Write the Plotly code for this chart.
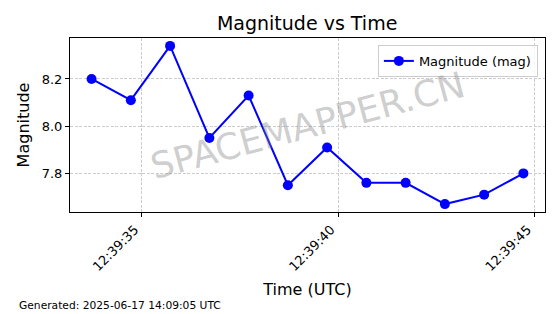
import plotly.graph_objects as go
import pandas as pd

times = ["2025-06-17 12:39:33.72", "2025-06-17 12:39:34.72", "2025-06-17 12:39:35.72",
         "2025-06-17 12:39:36.72", "2025-06-17 12:39:37.72", "2025-06-17 12:39:38.72",
         "2025-06-17 12:39:39.72", "2025-06-17 12:39:40.72", "2025-06-17 12:39:41.72",
         "2025-06-17 12:39:42.72", "2025-06-17 12:39:43.72", "2025-06-17 12:39:44.72"]
magnitude = [8.20, 8.11, 8.34, 7.95, 8.13, 7.75, 7.91, 7.76, 7.76, 7.67, 7.71, 7.80]
tick_vals = ["2025-06-17 12:39:35", "2025-06-17 12:39:40", "2025-06-17 12:39:45"]
tick_text = ["12:39:35", "12:39:40", "12:39:45"]
y_ticks = [7.8, 8.0, 8.2]

t = pd.to_datetime(times)
span = t.max() - t.min()
xr = [t.min() - span * 0.05, t.max() + span * 0.05]
ymin, ymax = min(magnitude), max(magnitude)
yr = [ymin - (ymax - ymin) * 0.05, ymax + (ymax - ymin) * 0.05]

font = "DejaVu Sans"
fig = go.Figure()
fig.add_trace(go.Scatter(
    x=t, y=magnitude, mode="lines+markers", name="Magnitude (mag)",
    line=dict(color="#0000ff", width=2), marker=dict(color="#0000ff", size=10),
))

fig.update_layout(
    width=560, height=314,
    margin=dict(l=70, r=15, t=38, b=102),
    paper_bgcolor="white", plot_bgcolor="white",
    font=dict(family=font, color="black", size=13),
    title=dict(text="Magnitude vs Time", x=0.5485, xanchor="center", y=0.927, yanchor="middle",
               font=dict(size=19, family=font)),
    showlegend=True,
    legend=dict(x=0.985, y=0.96, xanchor="right", yanchor="top", bgcolor="rgba(255,255,255,0.8)",
                bordercolor="#cccccc", borderwidth=1, font=dict(size=13, family=font)),
    xaxis=dict(type="date", range=xr, tickvals=pd.to_datetime(tick_vals), ticktext=tick_text,
               tickangle=-45, ticklabelshift=-7, showline=True, linecolor="black", linewidth=1, mirror=True,
               ticks="outside", ticklen=4, tickcolor="black",
               showgrid=True, gridcolor="#cccccc", griddash="3px,1.5px", gridwidth=0.8, zeroline=False,
               title=dict(text="Time (UTC)", font=dict(size=16, family=font), standoff=10)),
    yaxis=dict(range=yr, tickvals=y_ticks, ticktext=["7.8", "8.0", "8.2"],
               showline=True, linecolor="black", linewidth=1, mirror=True,
               ticks="outside", ticklen=4, tickcolor="black",
               showgrid=True, gridcolor="#cccccc", griddash="3px,1.5px", gridwidth=0.8, zeroline=False,
               title=dict(text="Magnitude", font=dict(size=16, family=font), standoff=8)),
    annotations=[
        dict(text="SPACEMAPPER.CN", xref="paper", yref="paper", x=0.5, y=0.5,
             xanchor="center", yanchor="middle", showarrow=False, textangle=-15,
             font=dict(size=36, family=font, color="rgba(128,128,128,0.4)")),
        dict(text="Generated: 2025-06-17 14:09:05 UTC", xref="paper", yref="paper",
             x=(17 - 70) / 475, y=(212 - 305) / 174, xanchor="left", yanchor="middle",
             showarrow=False, font=dict(size=10.7, family=font, color="black")),
    ],
)

fig.write_html("out.html")
